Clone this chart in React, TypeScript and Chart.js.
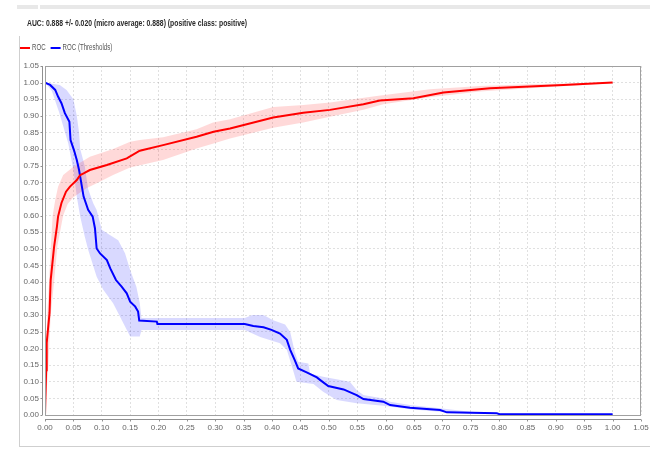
import React, { useEffect, useRef } from 'react';
import { Chart, registerables } from 'chart.js';

Chart.register(...registerables);

const TITLE_TEXT = 'AUC: 0.888 +/- 0.020 (micro average: 0.888) (positive class: positive)';
const SERIES_LABELS = ['ROC', 'ROC (Thresholds)'];
const SERIES_COLORS = ['#ff0000', '#0000ff'];
const BAND_COLORS = ['rgba(255,0,0,0.15)', 'rgba(0,0,255,0.15)'];
const TICK_VALUES = [
  0.0, 0.05, 0.1, 0.15, 0.2, 0.25, 0.3, 0.35, 0.4, 0.45, 0.5, 0.55,
  0.6, 0.65, 0.7, 0.75, 0.8, 0.85, 0.9, 0.95, 1.0, 1.05,
];

// [false positive rate, value]
const ROC_CURVE: [number, number][] = [
  [0, 0], [0.002, 0.135], [0.003, 0.217], [0.008, 0.307], [0.010, 0.406], [0.016, 0.506],
  [0.021, 0.567], [0.023, 0.597], [0.029, 0.638], [0.037, 0.672], [0.044, 0.687],
  [0.056, 0.707], [0.062, 0.722], [0.068, 0.727], [0.079, 0.737], [0.109, 0.752],
  [0.144, 0.772], [0.167, 0.795], [0.208, 0.812], [0.267, 0.837], [0.297, 0.852],
  [0.326, 0.862], [0.402, 0.895], [0.455, 0.909], [0.502, 0.918], [0.561, 0.935],
  [0.590, 0.946], [0.649, 0.953], [0.702, 0.970], [0.784, 0.983], [0.854, 0.988],
  [0.913, 0.993], [1.0, 1.0],
];
const ROC_UPPER: [number, number][] = [
  [0, 0], [0.001, 0.15], [0.004, 0.30], [0.010, 0.50], [0.0135, 0.60], [0.018, 0.647],
  [0.023, 0.687], [0.032, 0.722], [0.050, 0.747], [0.079, 0.777], [0.120, 0.800],
  [0.150, 0.822], [0.167, 0.827], [0.208, 0.836], [0.267, 0.860], [0.296, 0.880],
  [0.326, 0.890], [0.402, 0.927], [0.455, 0.933], [0.502, 0.940], [0.584, 0.960],
  [0.678, 0.980], [0.766, 0.990], [0.854, 0.995], [1.0, 1.0],
];
const ROC_LOWER: [number, number][] = [
  [0, 0], [0.006, 0.15], [0.010, 0.30], [0.016, 0.40], [0.022, 0.51], [0.032, 0.60],
  [0.040, 0.635], [0.050, 0.655], [0.073, 0.682], [0.091, 0.697], [0.120, 0.722],
  [0.150, 0.745], [0.208, 0.767], [0.267, 0.802], [0.297, 0.817], [0.326, 0.832],
  [0.402, 0.864], [0.455, 0.880], [0.502, 0.897], [0.561, 0.918], [0.596, 0.935],
  [0.678, 0.956], [0.766, 0.973], [0.854, 0.983], [1.0, 0.998],
];
const THRESHOLD_CURVE: [number, number][] = [
  [0, 1.0], [0.009, 0.993], [0.018, 0.978], [0.023, 0.958], [0.029, 0.938], [0.035, 0.908],
  [0.043, 0.882], [0.045, 0.827], [0.051, 0.797], [0.056, 0.767], [0.060, 0.737],
  [0.062, 0.717], [0.068, 0.657], [0.076, 0.617], [0.084, 0.597], [0.088, 0.562],
  [0.091, 0.501], [0.097, 0.486], [0.109, 0.466], [0.115, 0.441], [0.125, 0.406],
  [0.135, 0.386], [0.144, 0.366], [0.150, 0.341], [0.159, 0.326], [0.164, 0.311],
  [0.166, 0.284], [0.197, 0.281], [0.198, 0.274], [0.352, 0.274], [0.367, 0.268],
  [0.385, 0.264], [0.399, 0.256], [0.414, 0.245], [0.426, 0.226], [0.432, 0.196],
  [0.440, 0.165], [0.446, 0.140], [0.461, 0.128], [0.479, 0.113], [0.485, 0.105],
  [0.499, 0.087], [0.526, 0.077], [0.549, 0.060], [0.561, 0.048], [0.596, 0.040],
  [0.608, 0.030], [0.643, 0.022], [0.696, 0.015], [0.708, 0.008], [0.796, 0.005],
  [0.802, 0.002], [1.0, 0.002],
];
const THRESHOLD_UPPER: [number, number][] = [
  [0, 1.0], [0.026, 0.993], [0.038, 0.978], [0.050, 0.95], [0.056, 0.90], [0.060, 0.85],
  [0.062, 0.80], [0.070, 0.75], [0.076, 0.68], [0.085, 0.637], [0.091, 0.617], [0.100, 0.557],
  [0.115, 0.541], [0.129, 0.526], [0.141, 0.487], [0.150, 0.436], [0.161, 0.386],
  [0.167, 0.336], [0.170, 0.292], [0.352, 0.292], [0.365, 0.301], [0.385, 0.301],
  [0.402, 0.285], [0.423, 0.272], [0.432, 0.250], [0.440, 0.190], [0.446, 0.160],
  [0.464, 0.155], [0.467, 0.125], [0.490, 0.115], [0.537, 0.100], [0.549, 0.075],
  [0.561, 0.060], [0.596, 0.050], [0.608, 0.040], [0.643, 0.030], [0.696, 0.020],
  [0.749, 0.010], [0.802, 0.005], [1.0, 0.003],
];
const THRESHOLD_LOWER: [number, number][] = [
  [0, 1.0], [0.012, 0.975], [0.025, 0.91], [0.041, 0.817], [0.050, 0.737], [0.056, 0.657],
  [0.062, 0.597], [0.070, 0.537], [0.076, 0.497], [0.091, 0.416], [0.103, 0.376],
  [0.120, 0.336], [0.132, 0.296], [0.150, 0.236], [0.167, 0.236], [0.170, 0.256],
  [0.352, 0.256], [0.379, 0.235], [0.414, 0.216], [0.426, 0.196], [0.437, 0.135],
  [0.443, 0.100], [0.473, 0.093], [0.490, 0.070], [0.514, 0.045], [0.549, 0.035],
  [0.596, 0.028], [0.643, 0.017], [0.696, 0.010], [0.749, 0.004], [1.0, 0.001],
];

const FONT = '"Liberation Sans", Arial, sans-serif';
const TEXT_SQUEEZE = 0.72;

const toPoints = (a: [number, number][]) => a.map(([x, y]) => ({ x, y }));

const squeezedText = (ctx: any, text: string, x: number, y: number, sx: number) => {
  ctx.save();
  ctx.translate(x, y);
  ctx.scale(sx, 1);
  ctx.fillText(text, 0, 0);
  ctx.restore();
  return ctx.measureText(text).width * sx;
};

const framePlugin = {
  id: 'frame',
  afterDraw(chart: any) {
    const { ctx, chartArea: a, scales } = chart;
    ctx.save();
    // plot border
    ctx.strokeStyle = '#a0a0a0';
    ctx.lineWidth = 1;
    ctx.strokeRect(a.left + 0.5, a.top + 0.5, a.right - a.left - 1, a.bottom - a.top);
    // offset axis lines with small ticks
    ctx.strokeStyle = '#909090';
    const yx = a.left - 2.5;
    ctx.beginPath();
    ctx.moveTo(yx, a.top);
    ctx.lineTo(yx, a.bottom);
    scales.y.ticks.forEach((t: any) => {
      const py = Math.round(scales.y.getPixelForValue(t.value)) + 0.5;
      ctx.moveTo(yx - 2, py);
      ctx.lineTo(yx, py);
    });
    const xy = a.bottom + 4.5;
    ctx.moveTo(a.left, xy);
    ctx.lineTo(a.right, xy);
    scales.x.ticks.forEach((t: any) => {
      const px = Math.round(scales.x.getPixelForValue(t.value)) + 0.5;
      ctx.moveTo(px, xy);
      ctx.lineTo(px, xy + 2);
    });
    ctx.stroke();

    // title
    ctx.textAlign = 'left';
    ctx.textBaseline = 'middle';
    ctx.fillStyle = '#2a2a2a';
    ctx.font = `bold 9.5px ${FONT}`;
    const tw = ctx.measureText(TITLE_TEXT).width;
    squeezedText(ctx, TITLE_TEXT, 27, 23, 220 / tw);

    // legend
    ctx.font = `8.5px ${FONT}`;
    let lx = 20;
    const ly = 48;
    SERIES_LABELS.forEach((label, i) => {
      ctx.fillStyle = SERIES_COLORS[i];
      ctx.fillRect(lx, ly - 1, 10, 2);
      ctx.fillStyle = '#555';
      const w = squeezedText(ctx, label, lx + 12, ly, TEXT_SQUEEZE);
      lx += 12 + w + 5;
    });
    ctx.restore();
  },
};

export default function App() {
  const ref = useRef<HTMLCanvasElement>(null);

  useEffect(() => {
    if (!ref.current) return;
    const tickFont = { family: FONT, size: 8 };
    const setTicks = (s: any) => {
      s.ticks = TICK_VALUES.map((v) => ({ value: v }));
    };
    const chart = new Chart(ref.current, {
      type: 'line',
      data: {
        datasets: [
          {
            label: SERIES_LABELS[0], data: toPoints(ROC_CURVE), borderColor: SERIES_COLORS[0],
            backgroundColor: SERIES_COLORS[0], borderWidth: 2, pointRadius: 0, fill: false, order: 0,
          },
          {
            label: SERIES_LABELS[1], data: toPoints(THRESHOLD_CURVE), borderColor: SERIES_COLORS[1],
            backgroundColor: SERIES_COLORS[1], borderWidth: 2, pointRadius: 0, fill: false, order: 0,
          },
          {
            label: 'roc-upper', data: toPoints(ROC_UPPER), borderColor: 'rgba(0,0,0,0)',
            borderWidth: 1, pointRadius: 0, fill: false, order: 2,
          },
          {
            label: 'roc-lower', data: toPoints(ROC_LOWER), borderColor: 'rgba(0,0,0,0)',
            borderWidth: 1, pointRadius: 0, fill: { target: 2 }, backgroundColor: BAND_COLORS[0], order: 2,
          },
          {
            label: 'thr-upper', data: toPoints(THRESHOLD_UPPER), borderColor: 'rgba(0,0,0,0)',
            borderWidth: 1, pointRadius: 0, fill: false, order: 2,
          },
          {
            label: 'thr-lower', data: toPoints(THRESHOLD_LOWER), borderColor: 'rgba(0,0,0,0)',
            borderWidth: 1, pointRadius: 0, fill: { target: 4 }, backgroundColor: BAND_COLORS[1], order: 2,
          },
        ],
      },
      options: {
        animation: false,
        responsive: false,
        devicePixelRatio: 1,
        events: [],
        layout: { padding: { top: 66, left: 17, right: 18, bottom: 0 } },
        elements: { line: { tension: 0 } },
        scales: {
          x: {
            type: 'linear', min: 0, max: 1.05,
            afterBuildTicks: setTicks,
            afterFit: (s: any) => { s.height = 34; },
            ticks: {
              callback: (v: any) => Number(v).toFixed(2), font: tickFont, color: '#666',
              padding: 8, maxRotation: 0, autoSkip: false,
            },
            grid: { color: 'rgba(0,0,0,0.12)', drawTicks: false },
            border: { display: false, dash: [2, 2] },
          },
          y: {
            type: 'linear', min: 0, max: 1.05,
            afterBuildTicks: setTicks,
            afterFit: (s: any) => { s.width = 28; },
            ticks: {
              callback: (v: any) => Number(v).toFixed(2), font: tickFont, color: '#666',
              padding: 6, autoSkip: false,
            },
            grid: { color: 'rgba(0,0,0,0.12)', drawTicks: false },
            border: { display: false, dash: [2, 2] },
          },
        },
        plugins: {
          title: { display: false },
          tooltip: { enabled: false },
          legend: { display: false },
        },
      },
      plugins: [framePlugin],
    } as any);
    return () => chart.destroy();
  }, []);

  return (
    <div style={{ position: 'fixed', left: 0, top: 0, width: 659, height: 449, background: '#fff' }}>
      <div style={{ position: 'absolute', left: 17, top: 5, width: 21, height: 4, background: '#e8e8e8' }} />
      <div style={{ position: 'absolute', left: 40, top: 5, width: 610, height: 4, background: '#e8e8e8' }} />
      <div style={{ position: 'absolute', left: 19, top: 36, width: 1, height: 410, background: '#cfcfcf' }} />
      <div style={{ position: 'absolute', left: 19, top: 446, width: 631, height: 1, background: '#cfcfcf' }} />
      <canvas ref={ref} width={659} height={449} style={{ position: 'absolute', left: 0, top: 0, width: 659, height: 449 }} />
    </div>
  );
}
